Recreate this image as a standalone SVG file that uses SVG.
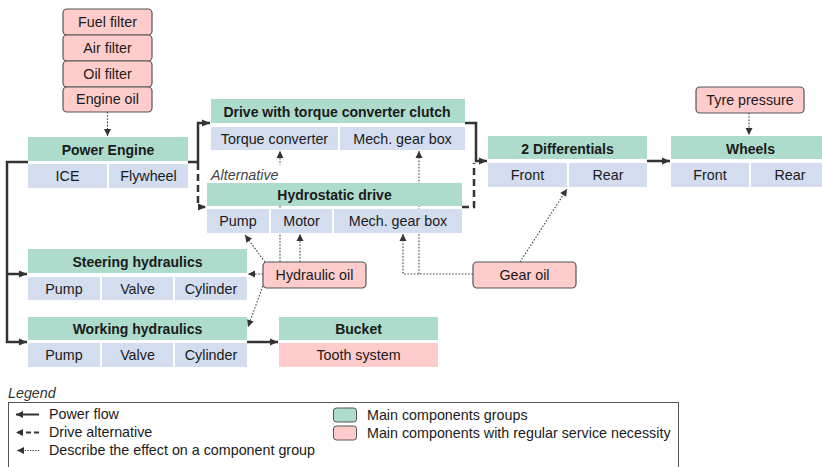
<svg xmlns="http://www.w3.org/2000/svg" width="822" height="467" viewBox="0 0 822 467">
<style>
text{font-family:"Liberation Sans",Arial,sans-serif;font-size:14.3px;fill:#1a1a1a;text-anchor:middle}
.h{fill:#addccd}
.s{fill:#d3ddef}
.p{fill:#ffcccc}
.ps{fill:#ffcccc;stroke:#555;stroke-width:1.2}
.b{font-weight:bold;font-size:14px}
.pw{fill:none;stroke:#333;stroke-width:2.5}
.da{fill:none;stroke:#333;stroke-width:2.5;stroke-dasharray:7 4}
.dt{fill:none;stroke:#444;stroke-width:1.1;stroke-dasharray:1.6 1.6}
.l{text-anchor:start}
</style>
<defs>
<marker id="ap" markerUnits="userSpaceOnUse" markerWidth="10" markerHeight="10" refX="9" refY="5" orient="auto"><path d="M1,1.5 L9,5 L1,8.5 Z" fill="#333"/></marker>
<marker id="ad" markerUnits="userSpaceOnUse" markerWidth="10" markerHeight="10" refX="8" refY="5" orient="auto"><path d="M1,1.5 L8,5 L1,8.5 Z" fill="#333"/></marker>
</defs>

<g id="connectors">
<path class="pw" d="M188,162 H198 V123 H210" marker-end="url(#ap)"/>
<path class="pw" d="M465,123 H476 V161 H487" marker-end="url(#ap)"/>
<path class="pw" d="M647,161 H670" marker-end="url(#ap)"/>
<path class="pw" d="M28,162 H7 V342 H27" marker-end="url(#ap)"/>
<path class="pw" d="M7,274 H27" marker-end="url(#ap)"/>
<path class="pw" d="M247,342 H278" marker-end="url(#ap)"/>
<path class="da" d="M198,163 V207 H206" marker-end="url(#ap)"/>
<path class="da" d="M462,207 H474 V163"/>
<path class="dt" d="M107.5,112 V136" marker-end="url(#ad)"/>
<path class="dt" d="M749,113 V135" marker-end="url(#ad)"/>
<path class="dt" d="M265,262 L245,235" marker-end="url(#ad)"/>
<path class="dt" d="M280,262 V151" marker-end="url(#ad)"/>
<path class="dt" d="M300,262 V234" marker-end="url(#ad)"/>
<path class="dt" d="M263,274 H248" marker-end="url(#ad)"/>
<path class="dt" d="M265,280 L248,327" marker-end="url(#ad)"/>
<path class="dt" d="M473,274 H403 V234" marker-end="url(#ad)"/>
<path class="dt" d="M419,274 V151" marker-end="url(#ad)"/>
<path class="dt" d="M520,262 L567,189" marker-end="url(#ad)"/>
</g>

<g id="filters">
<rect class="ps" x="63" y="9" width="89" height="26" rx="4"/>
<rect class="ps" x="63" y="35" width="89" height="26" rx="4"/>
<rect class="ps" x="63" y="61" width="89" height="26" rx="4"/>
<rect class="ps" x="63" y="87" width="89" height="25" rx="4"/>
<text x="107.5" y="27">Fuel filter</text>
<text x="107.5" y="53">Air filter</text>
<text x="107.5" y="79">Oil filter</text>
<text x="107.5" y="104">Engine oil</text>
</g>

<g id="power-engine">
<rect class="h" x="28" y="137" width="160" height="24"/>
<rect class="s" x="28" y="164" width="79" height="24"/>
<rect class="s" x="109" y="164" width="79" height="24"/>
<text class="b" x="108" y="155">Power Engine</text>
<text x="67.5" y="181">ICE</text>
<text x="148.5" y="181">Flywheel</text>
</g>

<g id="drive-torque">
<rect class="h" x="211" y="99" width="254" height="24"/>
<rect class="s" x="211" y="127" width="127" height="23"/>
<rect class="s" x="340" y="127" width="125" height="23"/>
<text class="b" x="337" y="117">Drive with torque converter clutch</text>
<text x="274.5" y="144">Torque converter</text>
<text x="402.5" y="144">Mech. gear box</text>
</g>

<g id="alternative">
<rect x="209" y="165" width="78" height="17" fill="#fff"/>
<text class="l" x="211" y="180" style="font-style:italic;fill:#444">Alternative</text>
</g>

<g id="hydrostatic">
<rect class="h" x="207" y="183" width="255" height="23"/>
<rect class="s" x="207" y="209" width="62" height="24"/>
<rect class="s" x="271" y="209" width="61" height="24"/>
<rect class="s" x="334" y="209" width="128" height="24"/>
<text class="b" x="334.5" y="200">Hydrostatic drive</text>
<text x="238" y="226">Pump</text>
<text x="301.5" y="226">Motor</text>
<text x="398" y="226">Mech. gear box</text>
</g>

<g id="differentials">
<rect class="h" x="488" y="136" width="159" height="23"/>
<rect class="s" x="488" y="163" width="79" height="24"/>
<rect class="s" x="569" y="163" width="78" height="24"/>
<text class="b" x="567.5" y="154">2 Differentials</text>
<text x="527.5" y="180">Front</text>
<text x="608" y="180">Rear</text>
</g>

<g id="tyre-pressure">
<rect class="ps" x="696" y="87" width="108" height="26" rx="4"/>
<text x="750" y="105">Tyre pressure</text>
</g>

<g id="wheels">
<rect class="h" x="671" y="136" width="159" height="23"/>
<rect class="s" x="671" y="163" width="78" height="24"/>
<rect class="s" x="751" y="163" width="79" height="24"/>
<text class="b" x="750.5" y="154">Wheels</text>
<text x="710" y="180">Front</text>
<text x="790" y="180">Rear</text>
</g>

<g id="steering">
<rect class="h" x="28" y="249" width="219" height="24"/>
<rect class="s" x="28" y="277" width="72" height="23"/>
<rect class="s" x="102" y="277" width="71" height="23"/>
<rect class="s" x="175" y="277" width="72" height="23"/>
<text class="b" x="137.5" y="267">Steering hydraulics</text>
<text x="64" y="294">Pump</text>
<text x="137.5" y="294">Valve</text>
<text x="211" y="294">Cylinder</text>
</g>

<g id="working">
<rect class="h" x="28" y="317" width="219" height="23"/>
<rect class="s" x="28" y="343" width="72" height="24"/>
<rect class="s" x="102" y="343" width="71" height="24"/>
<rect class="s" x="175" y="343" width="72" height="24"/>
<text class="b" x="137.5" y="334">Working hydraulics</text>
<text x="64" y="360">Pump</text>
<text x="137.5" y="360">Valve</text>
<text x="211" y="360">Cylinder</text>
</g>

<g id="hydraulic-oil">
<rect class="ps" x="263" y="262" width="103" height="26" rx="4"/>
<text x="314.5" y="280">Hydraulic oil</text>
</g>

<g id="gear-oil">
<rect class="ps" x="473" y="262" width="103" height="26" rx="4"/>
<text x="524.5" y="280">Gear oil</text>
</g>

<g id="bucket">
<rect class="h" x="279" y="317" width="159" height="23"/>
<rect class="p" x="279" y="343" width="159" height="24"/>
<text class="b" x="358.5" y="334">Bucket</text>
<text x="358.5" y="360">Tooth system</text>
</g>

<g id="legend">
<text class="l" x="8" y="398" style="font-style:italic;fill:#333">Legend</text>
<rect x="8.5" y="402.5" width="670" height="70" fill="none" stroke="#555" stroke-width="1"/>
<path d="M39,414.5 H16" stroke="#333" stroke-width="2" marker-end="url(#ad)"/>
<path d="M39,432.5 H16" stroke="#333" stroke-width="2" stroke-dasharray="5 3" marker-end="url(#ad)"/>
<path d="M39,450.5 H17" stroke="#444" stroke-width="1" stroke-dasharray="1.3 1.3" marker-end="url(#ad)"/>
<text class="l" x="49" y="419">Power flow</text>
<text class="l" x="49" y="437">Drive alternative</text>
<text class="l" x="49" y="455">Describe the effect on a component group</text>
<rect x="333.5" y="408" width="23" height="14" rx="3" fill="#addccd" stroke="#555"/>
<rect x="333.5" y="426" width="23" height="14" rx="3" fill="#ffcccc" stroke="#555"/>
<text class="l" x="367" y="420">Main components groups</text>
<text class="l" x="367" y="438">Main components with regular service necessity</text>
</g>
</svg>
